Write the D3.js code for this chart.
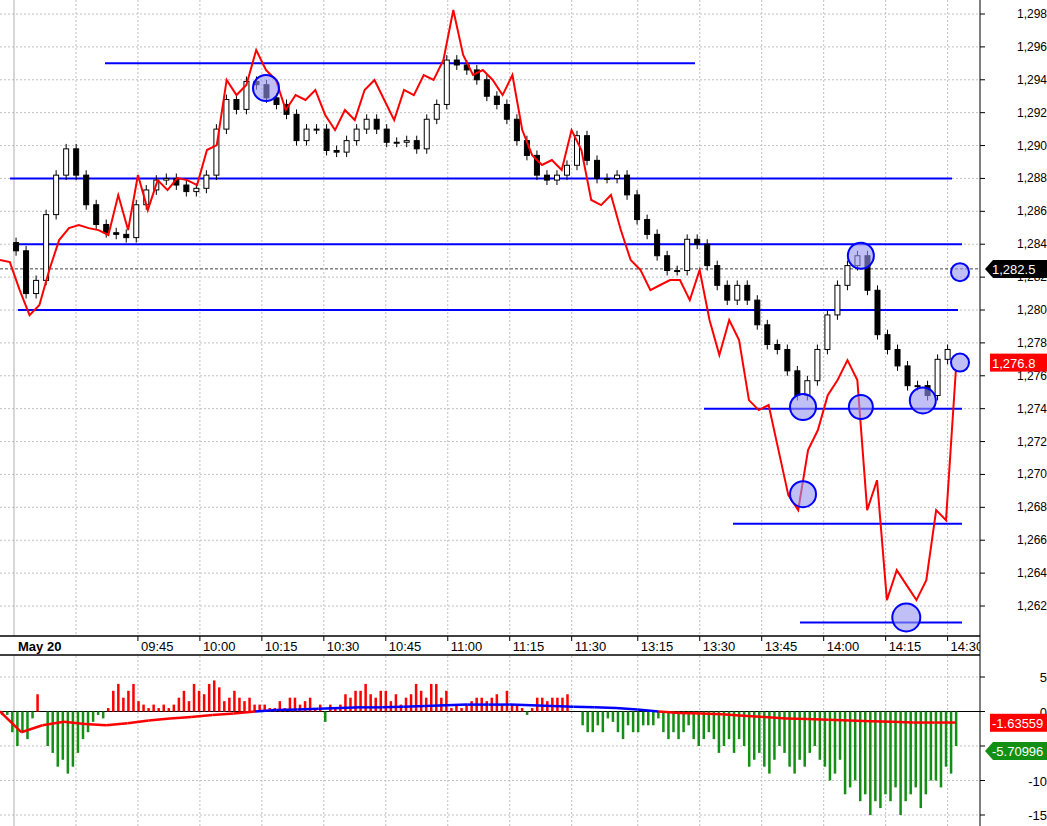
<!DOCTYPE html>
<html><head><meta charset="utf-8">
<script src="https://cdn.jsdelivr.net/npm/d3@7"></script>
<style>body{margin:0;background:#fff}text{font-family:Arial,"Liberation Sans",sans-serif}</style>
</head><body><svg id="c" width="1047" height="826"></svg>
<script>
const closes=[1283.6,1281,1281.8,1285.8,1288.2,1289.8,1288.2,1286.4,1285.2,1284.7,1284.6,1284.4,1286.4,1287.3,1287.9,1288,1287.6,1287.2,1287.4,1288.2,1291,1292.8,1292.2,1293.9,1293.7,1292.9,1292.5,1291.9,1290.3,1291,1291,1289.7,1289.6,1290.3,1291,1291.6,1291,1290.2,1290.2,1290.3,1289.8,1291.6,1292.5,1295.2,1294.9,1294.6,1294,1293,1292.5,1291.6,1290.3,1289.4,1288.2,1287.9,1288.2,1288.8,1290.6,1289.1,1288,1288,1288.2,1287,1285.5,1284.6,1283.3,1282.4,1282.4,1284.3,1284,1282.7,1281.5,1280.6,1281.5,1280.6,1279.1,1277.9,1277.6,1276.3,1274.8,1275.7,1277.6,1279.7,1281.5,1282.7,1283.3,1281.2,1278.5,1277.6,1276.6,1275.4,1275.4,1274.8,1277,1277.6];
const redY=[260,262,290,315,305,270,240,228,225,228,230,235,195,230,175,210,180,190,178,180,185,150,145,80,95,85,50,70,80,110,95,100,90,115,130,110,120,90,80,100,120,90,95,75,80,60,10,55,75,70,80,95,75,130,155,165,160,170,130,150,200,205,195,230,260,270,290,285,280,280,300,270,320,355,320,340,400,410,405,450,495,510,450,430,395,380,360,380,510,480,600,570,585,600,580,510,520,370];
const redLine=redY.map(y=>+(1298-(y-14)/16.44).toFixed(2));
const levels=[{p:1295,a:105,b:695},{p:1288,a:10,b:952},{p:1284,a:18,b:962},{p:1280,a:18,b:958},{p:1274,a:704,b:962},{p:1267,a:733,b:962},{p:1261,a:800,b:962}];
const circles=[{t:61,p:1293.5,r:13},{t:191,p:1274.1,r:13},{t:205,p:1283.3,r:13},{t:205,p:1274.1,r:12},{t:220,p:1274.5,r:13},{t:191,p:1268.8,r:13},{t:216,p:1261.3,r:14},{t:229,p:1282.3,r:9},{t:229,p:1276.8,r:9}];
const priceTicks=d3.range(1262,1299,2);
const timeTicks=[["May 20",0],["09:45",30],["10:00",45],["10:15",60],["10:30",75],["10:45",90],["11:00",105],["11:15",120],["11:30",135],["13:15",151],["13:30",166],["13:45",181],["14:00",196],["14:15",211],["14:30",226]];
const hist=[-0.5,-0.5,-3,-5,-3,-4,-1,2.5,0,-5,-6,-8,-7,-9,-8,-6,-4,-3,-1.5,-0.5,-1,0.5,3,4,2,3,4,1.5,1,0.5,1,0.5,1,0.5,1,2,3,1.5,4,3,2.5,4,4.5,3.5,1.5,2,3,2,1.5,2,1,1,1,0.5,0.5,1.5,0.5,2,2,1,1.5,2,0.5,1,-1.5,1,0.5,1,2.5,2,3,3,4,2.5,2,3,3,1.5,2.5,1,2,2.5,4,3,2,4,4,2,3,0.5,1,0.5,1,1.5,2,2,1.5,2,2.5,1,3,1,1,0.5,-0.5,0.5,2,2,1.5,2,2,2,2.5,0,0,-2,-3,-3,-2,-3,-1,-1.5,-3,-4,-2,-3,-3,-2,-2,-2,-1,-3,-4,-3,-4,-3,-2,-4,-5,-4,-3,-4,-6,-5,-4,-6,-4,-5,-8,-7,-6,-8,-9,-7,-5,-6,-8,-9,-7,-8,-6,-5,-7,-8,-10,-9,-7,-12,-11,-10,-13,-12,-15,-13,-14,-12,-13,-11,-15,-13,-12,-11,-14,-12,-10,-10,-11,-8,-9,-5];
const sigLine=[0,-3,-2,-1.5,-1.8,-2,-1.7,-1.3,-1,-0.8,-0.5,-0.3,0,0.2,0.3,0.4,0.5,0.6,0.6,0.7,0.8,0.9,1,1,1,0.9,0.8,0.7,0.6,0.5,0.3,0,-0.2,-0.3,-0.4,-0.6,-0.8,-1,-1.1,-1.2,-1.3,-1.4,-1.5,-1.6,-1.6,-1.6];
const histTicks=[5,0,-5,-10,-15];

const svg=d3.select("#c");
const tx=d3.scaleLinear().domain([0,229]).range([14,960]);
const y=d3.scaleLinear().domain([1262,1298]).range([606,14]);
const yh=d3.scaleLinear().domain([5,-15]).range([677,815]);
const cx=d3.scaleLinear().domain([0,closes.length-1]).range([tx(0.5),tx(226)]);
const rx=d3.scaleLinear().domain([0,redLine.length-1]).range([0,tx(228)]);
const hx=d3.scaleLinear().domain([0,hist.length-1]).range([2,tx(228)]);
const sx=d3.scaleLinear().domain([0,sigLine.length-1]).range([0,tx(228)]);
const W=980;
// grid
const g=svg.append("g").attr("stroke","#c0c0c0").attr("stroke-dasharray","2,2");
priceTicks.forEach(p=>g.append("line").attr("x1",0).attr("x2",W).attr("y1",y(p)).attr("y2",y(p)));
histTicks.forEach(p=>g.append("line").attr("x1",0).attr("x2",W).attr("y1",yh(p)).attr("y2",yh(p)));
timeTicks.slice(1).concat([["",15]]).forEach(t=>{g.append("line").attr("x1",tx(t[1])).attr("x2",tx(t[1])).attr("y1",0).attr("y2",826);});
svg.append("line").attr("x1",tx(0)).attr("x2",tx(0)).attr("y1",0).attr("y2",826).attr("stroke","#b0b0b0");
// dashed level
svg.append("line").attr("x1",0).attr("x2",W).attr("y1",y(1282.5)).attr("y2",y(1282.5)).attr("stroke","#444").attr("stroke-dasharray","3,2");
// levels
svg.append("g").selectAll("line").data(levels).join("line").attr("x1",d=>d.a).attr("x2",d=>d.b).attr("y1",d=>y(d.p)).attr("y2",d=>y(d.p)).attr("stroke","#0000ff").attr("stroke-width",2);
// candles
const cg=svg.append("g");
closes.forEach((c,i)=>{const o=i?closes[i-1]:c+0.5;const hi=Math.max(o,c)+0.3,lo=Math.min(o,c)-0.3;const x=cx(i);
cg.append("line").attr("x1",x).attr("x2",x).attr("y1",y(hi)).attr("y2",y(lo)).attr("stroke","#000");
cg.append("rect").attr("x",x-2.5).attr("width",5).attr("y",y(Math.max(o,c))).attr("height",Math.max(1,Math.abs(y(o)-y(c)))).attr("fill",c<o?"#000":"#fff").attr("stroke","#000").attr("stroke-width",1);});
// red line
svg.append("path").datum(redLine).attr("d",d3.line().x((d,i)=>rx(i)).y(d=>y(d))).attr("fill","none").attr("stroke","#ff0000").attr("stroke-width",2);
// circles
svg.append("g").selectAll("circle").data(circles).join("circle").attr("cx",d=>tx(d.t)).attr("cy",d=>y(d.p)).attr("r",d=>d.r).attr("fill","rgba(150,150,240,0.6)").attr("stroke","#0000ff").attr("stroke-width",2);
// bottom panel
svg.append("rect").attr("x",0).attr("y",636).attr("width",W).attr("height",19).attr("fill","#fff");
svg.append("line").attr("x1",0).attr("x2",1047).attr("y1",636).attr("y2",636).attr("stroke","#000").attr("stroke-width",1.5);
svg.append("line").attr("x1",0).attr("x2",1047).attr("y1",655).attr("y2",655).attr("stroke","#000").attr("stroke-width",1.5);
timeTicks.forEach((t,i)=>{const x=tx(t[1]);
 if(i>0)svg.append("line").attr("x1",x).attr("x2",x).attr("y1",636).attr("y2",641).attr("stroke","#000");
 svg.append("text").attr("x",i?x+3:x+4).attr("y",651).attr("font-size",i?13:13).attr("font-weight",i?"normal":"bold").text(t[0]);});
svg.append("line").attr("x1",0).attr("x2",W).attr("y1",yh(0)).attr("y2",yh(0)).attr("stroke","#000");
svg.append("g").selectAll("rect").data(hist).join("rect").attr("x",(d,i)=>hx(i)-1).attr("width",2.5).attr("y",d=>Math.min(yh(0),yh(d))).attr("height",d=>Math.abs(yh(d)-yh(0))).attr("fill",d=>d>=0?"#ff0000":"#139013");
const sl=d3.line().x((d,i)=>sx(i)).y(d=>yh(d));
sigLine.forEach((d,i)=>{if(i==0)return;const a=sigLine[i-1];svg.append("path").attr("d",sl.x(()=>0)&&d3.line()([[sx(i-1),yh(a)],[sx(i),yh(d)]])).attr("stroke",(a+d)/2>=0.05||i<1?"#0000ff":"#ff0000").attr("stroke-width",2.5).attr("fill","none");});
// right axis
svg.append("rect").attr("x",W).attr("y",0).attr("width",67).attr("height",826).attr("fill","#fff");
svg.append("line").attr("x1",W).attr("x2",W).attr("y1",0).attr("y2",826).attr("stroke","#000");
priceTicks.forEach(p=>{svg.append("line").attr("x1",W).attr("x2",W+5).attr("y1",y(p)).attr("y2",y(p)).attr("stroke","#000");
 svg.append("text").attr("x",1047).attr("y",y(p)+4).attr("text-anchor","end").attr("font-size",12).text(d3.format(",")(p));});
histTicks.forEach(p=>{svg.append("line").attr("x1",W).attr("x2",W+5).attr("y1",yh(p)).attr("y2",yh(p)).attr("stroke","#000");
 svg.append("text").attr("x",1047).attr("y",yh(p)+5).attr("text-anchor","end").attr("font-size",13).text(p);});
function tag(yv,txt,fill,col){const yy=yv;svg.append("path").attr("d",`M${W+5},${yy} L${W+13},${yy-9} L1047,${yy-9} L1047,${yy+9} L${W+13},${yy+9}Z`).attr("fill",fill);
 svg.append("text").attr("x",W+12).attr("y",yy+5).attr("font-size",13).attr("fill",col).text(txt);}
tag(y(1282.5),"1,282.5","#000","#fff");
svg.append("rect").attr("x",990).attr("y",y(1276.8)-9).attr("width",57).attr("height",18).attr("fill","#ff0000");
svg.append("text").attr("x",992).attr("y",y(1276.8)+5).attr("font-size",13).attr("fill","#fff").text("1,276.8");
svg.append("rect").attr("x",990).attr("y",yh(-1.63559)-9).attr("width",57).attr("height",18).attr("fill","#ff0000");
svg.append("text").attr("x",992).attr("y",yh(-1.63559)+5).attr("font-size",13).attr("fill","#fff").text("-1.63559");
tag(yh(-5.70996),"-5.70996","#139013","#fff");
</script></body></html>
